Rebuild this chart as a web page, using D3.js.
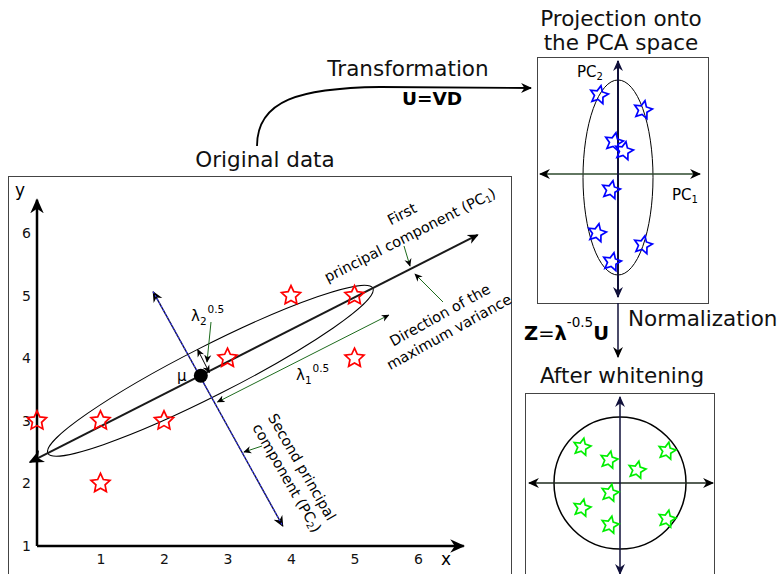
<!DOCTYPE html>
<html>
<head>
<meta charset="utf-8">
<script src="https://cdn.jsdelivr.net/npm/d3@7"></script>
<style>
  body { margin: 0; background: #fff; }
  svg { display: block; font-family: "DejaVu Sans", Verdana, sans-serif; }
</style>
</head>
<body>
<div id="chart"></div>
<script>
// ---- original data (x, y) ----
const dataX = [0, 1, 1, 2, 3, 4, 5, 5];
const dataY = [3, 3, 2, 3, 4, 5, 5, 4];
const xTicks = [1, 2, 3, 4, 5, 6];
const yTicks = [1, 2, 3, 4, 5, 6];
const meanXY = [2.58, 3.72];
const pc1Ends = [[-0.11, 2.34], [6.94, 5.97]];
const pc2Ends = [[1.83, 5.06], [3.87, 1.32]];
const ellipseCenter = [2.73, 3.80];
const ellipseAxes = [2.87, 0.39];   // semi axes, in x units

// ---- projection onto the PCA space ----
const projPC1 = [-1.9, 2.5, -0.4, 0.6, -0.7, -2.1, 2.5, -0.6];
const projPC2 = [7.9, 6.4, 3.2, 2.3, -1.6, -5.9, -7.1, -8.8];
const projEllipse = [0, -0.35, 3.5, 9.75];   // cx, cy, rx, ry

// ---- after whitening ----
const whiteX = [-3.8, -1.1, 4.7, 1.7, -1.0, -3.8, -1.0, 4.7];
const whiteY = [3.6, 2.3, 3.2, 1.3, -1.0, -2.5, -4.2, -3.6];
const whiteRadius = 6.6;

const W = 780, H = 574;
const svg = d3.select("#chart").append("svg").attr("width", W).attr("height", H);

// markers
const defs = svg.append("defs");
function marker(id, size, color) {
    defs.append("marker")
        .attr("id", id)
        .attr("viewBox", "-10 -5 10 10")
        .attr("refX", -1).attr("refY", 0)
        .attr("markerUnits", "userSpaceOnUse")
        .attr("markerWidth", size).attr("markerHeight", size)
        .attr("orient", "auto-start-reverse")
        .append("path")
        .attr("d", "M0,0 L-10,-4.5 L-7,0 L-10,4.5 Z")
        .attr("fill", color);
}
marker("big", 15, "#000");
marker("mid", 11, "#000");
marker("small", 8, "#000");
marker("navy", 11, "#10103a");

const star = d3.lineRadial().curve(d3.curveLinearClosed);
function starPath(r) {
    const pts = d3.range(10).map(i => [i * Math.PI / 5, i % 2 ? r * 0.48 : r]);
    return star(pts);
}

// ================= original data panel =================
svg.append("rect").attr("x", 8.5).attr("y", 176.5).attr("width", 503).attr("height", 420)
    .attr("fill", "none").attr("stroke", "#444").attr("stroke-width", 1);

const x = d3.scaleLinear().domain([0, 6]).range([37, 418]);
const y = d3.scaleLinear().domain([1, 6]).range([546, 233]);

const gx = svg.append("g").attr("transform", `translate(0,${y(1)})`)
    .call(d3.axisBottom(x).tickValues(xTicks).tickFormat(d3.format("d")).tickSize(0).tickPadding(8));
const gy = svg.append("g").attr("transform", `translate(${x(0)},0)`)
    .call(d3.axisLeft(y).tickValues(yTicks).tickFormat(d3.format("d")).tickSize(0).tickPadding(6));
[gx, gy].forEach(g => {
    g.select(".domain").remove();
    g.selectAll("text").attr("font-size", 14).attr("font-family", "DejaVu Sans").attr("fill", "#111");
});

svg.append("line").attr("x1", x(0)).attr("y1", y(1)).attr("x2", x(0)).attr("y2", y(6.53))
    .attr("stroke", "#000").attr("stroke-width", 2.5).attr("marker-end", "url(#big)");
svg.append("line").attr("x1", x(0)).attr("y1", y(1)).attr("x2", x(6.72)).attr("y2", y(1))
    .attr("stroke", "#000").attr("stroke-width", 2.5).attr("marker-end", "url(#big)");
svg.append("text").attr("x", 20).attr("y", 196).attr("font-size", 17).attr("text-anchor", "middle").text("y");
svg.append("text").attr("x", 446).attr("y", 565).attr("font-size", 17).attr("text-anchor", "middle").text("x");

// PC1 geometry in pixels
const p0 = [x(pc1Ends[0][0]), y(pc1Ends[0][1])];
const p1 = [x(pc1Ends[1][0]), y(pc1Ends[1][1])];
const ang = Math.atan2(p1[1] - p0[1], p1[0] - p0[0]);
const u = [Math.cos(ang), Math.sin(ang)];      // along PC1
const n = [Math.sin(ang), -Math.cos(ang)];     // perpendicular, pointing up-left
const ec = [x(ellipseCenter[0]), y(ellipseCenter[1])];
const erx = x(ellipseAxes[0]) - x(0), ery = x(ellipseAxes[1]) - x(0);
const mu = [x(meanXY[0]), y(meanXY[1])];
const at = (b, a, c) => [b[0] + u[0] * a + n[0] * c, b[1] + u[1] * a + n[1] * c];

svg.append("ellipse").attr("cx", ec[0]).attr("cy", ec[1]).attr("rx", erx).attr("ry", ery)
    .attr("transform", `rotate(${ang * 180 / Math.PI},${ec[0]},${ec[1]})`)
    .attr("fill", "none").attr("stroke", "#000").attr("stroke-width", 1);

svg.append("line").attr("x1", p0[0]).attr("y1", p0[1]).attr("x2", p1[0]).attr("y2", p1[1])
    .attr("stroke", "#1a1a1a").attr("stroke-width", 2)
    .attr("marker-start", "url(#big)").attr("marker-end", "url(#mid)");

// PC2
const q0 = [x(pc2Ends[0][0]), y(pc2Ends[0][1])];
const q1 = [x(pc2Ends[1][0]), y(pc2Ends[1][1])];
svg.append("line").attr("x1", q0[0]).attr("y1", q0[1]).attr("x2", q1[0]).attr("y2", q1[1])
    .attr("stroke", "#10103a").attr("stroke-width", 1.4)
    .attr("marker-start", "url(#mid)").attr("marker-end", "url(#mid)");
svg.append("line").attr("x1", q0[0]).attr("y1", q0[1]).attr("x2", q1[0]).attr("y2", q1[1])
    .attr("stroke", "#3a3aff").attr("stroke-width", 1.1).attr("stroke-dasharray", "2,2");

// lambda arrows
const l1a = at(mu, 3, -31), l1b = at(mu, 195, -31);
svg.append("line").attr("x1", l1a[0]).attr("y1", l1a[1]).attr("x2", l1b[0]).attr("y2", l1b[1])
    .attr("stroke", "#1d6b1d").attr("stroke-width", 1)
    .attr("marker-start", "url(#small)").attr("marker-end", "url(#small)");
const l2a = at(mu, 9, -1), l2b = at(mu, 9, ery);
svg.append("line").attr("x1", l2a[0]).attr("y1", l2a[1]).attr("x2", l2b[0]).attr("y2", l2b[1])
    .attr("stroke", "#000").attr("stroke-width", 1)
    .attr("marker-start", "url(#small)").attr("marker-end", "url(#small)");

// green pointers
const pointers = [
    [[211, 322], [207, 362]],
    [[404, 246], [410, 266]],
    [[443, 302], [415, 274]],
    [[262, 446], [244, 452]]
];
svg.selectAll(".ptr").data(pointers).enter().append("line")
    .attr("x1", d => d[0][0]).attr("y1", d => d[0][1])
    .attr("x2", d => d[1][0]).attr("y2", d => d[1][1])
    .attr("stroke", "#1d6b1d").attr("stroke-width", 1).attr("marker-end", "url(#small)");

// mean
svg.append("circle").attr("cx", mu[0]).attr("cy", mu[1]).attr("r", 7).attr("fill", "#000");
svg.append("text").attr("x", 177).attr("y", 381).attr("font-size", 15).text("μ");

// red stars
svg.selectAll(".red").data(dataX).enter().append("path")
    .attr("d", starPath(10))
    .attr("transform", (d, i) => `translate(${x(d)},${y(dataY[i])})`)
    .attr("fill", "none").attr("stroke", "#ff0000").attr("stroke-width", 1.7);

// lambda labels
function lambda(lx, ly, sub) {
    const t = svg.append("text").attr("x", lx).attr("y", ly).attr("font-size", 15);
    t.append("tspan").text("λ");
    t.append("tspan").attr("font-size", 10.5).attr("dy", 4).text(sub);
    t.append("tspan").attr("font-size", 10.5).attr("dy", -12).attr("dx", 1).text("0.5");
}
lambda(191, 321, "2");
lambda(296, 380, "1");

// rotated annotations
function rotText(cx, cy, a, parts, size) {
    const t = svg.append("text").attr("font-size", size || 14.5)
        .attr("text-anchor", "middle").attr("dominant-baseline", "central")
        .attr("transform", `translate(${cx},${cy}) rotate(${a})`);
    parts.forEach(p => {
        if (p.sub) t.append("tspan").attr("font-size", 9.5).attr("dy", 3).text(p.sub);
        else if (p.after) t.append("tspan").attr("dy", -3).text(p.after);
        else t.append("tspan").text(p.t);
    });
}
rotText(402, 214, -27, [{t: "First"}]);
rotText(410, 235, -27, [{t: "principal component (PC"}, {sub: "1"}, {after: ")"}]);
rotText(440, 315, -29, [{t: "Direction of the"}]);
rotText(449, 332, -29, [{t: "maximum variance"}]);
rotText(302, 467, 60, [{t: "Second principal"}]);
rotText(287, 478, 60, [{t: "component (PC"}, {sub: "2"}, {after: ")"}]);

// ================= titles and transformation =================
const title = (tx, ty, s, anchor) => svg.append("text").attr("x", tx).attr("y", ty)
    .attr("font-size", 21.5).attr("text-anchor", anchor || "middle").attr("fill", "#111").text(s);
title(265, 167, "Original data");
title(408, 76, "Transformation");
title(621, 26, "Projection onto");
title(621, 50, "the PCA space");
title(628, 326, "Normalization", "start");
title(622, 383, "After whitening");

svg.append("path").attr("d", "M257,146 C257,100 300,88 380,87 L531,88")
    .attr("fill", "none").attr("stroke", "#000").attr("stroke-width", 1.8)
    .attr("marker-end", "url(#mid)");
svg.append("text").attr("x", 432).attr("y", 105).attr("font-size", 18.5).attr("font-weight", "bold")
    .attr("text-anchor", "middle").text("U=VD");

// ================= projection panel =================
svg.append("rect").attr("x", 537.5).attr("y", 57.5).attr("width", 171).attr("height", 246)
    .attr("fill", "none").attr("stroke", "#444").attr("stroke-width", 1);
const px = d3.scaleLinear().domain([-10, 10]).range([518, 718]);
const py = d3.scaleLinear().domain([-10, 10]).range([274, 74]);

svg.append("ellipse").attr("cx", px(projEllipse[0])).attr("cy", py(projEllipse[1]))
    .attr("rx", px(projEllipse[2]) - px(0)).attr("ry", py(0) - py(projEllipse[3]))
    .attr("fill", "none").attr("stroke", "#000").attr("stroke-width", 1);
svg.append("line").attr("x1", px(-7.8)).attr("y1", py(0)).attr("x2", px(8.2)).attr("y2", py(0))
    .attr("stroke", "#2e4a2e").attr("stroke-width", 1.5)
    .attr("marker-start", "url(#mid)").attr("marker-end", "url(#mid)");
svg.append("line").attr("x1", px(0)).attr("y1", py(11.3)).attr("x2", px(0)).attr("y2", py(-12.3))
    .attr("stroke", "#10103a").attr("stroke-width", 2)
    .attr("marker-start", "url(#navy)").attr("marker-end", "url(#navy)");

svg.selectAll(".blue").data(projPC1).enter().append("path")
    .attr("d", starPath(9.5))
    .attr("transform", (d, i) => `translate(${px(d)},${py(projPC2[i])}) rotate(12)`)
    .attr("fill", "none").attr("stroke", "#0000ff").attr("stroke-width", 1.7);

const pcLabel = (lx, ly, sub) => {
    const t = svg.append("text").attr("x", lx).attr("y", ly).attr("font-size", 15);
    t.append("tspan").text("PC");
    t.append("tspan").attr("font-size", 10).attr("dy", 3).text(sub);
};
pcLabel(577, 77, "2");
pcLabel(672, 200, "1");

// normalization arrow and formula
svg.append("line").attr("x1", px(0)).attr("y1", 303).attr("x2", px(0)).attr("y2", 357)
    .attr("stroke", "#10103a").attr("stroke-width", 1.5).attr("marker-end", "url(#mid)");
const z = svg.append("text").attr("x", 524).attr("y", 340).attr("font-size", 19.5).attr("font-weight", "bold");
z.append("tspan").text("Z");
z.append("tspan").attr("font-weight", "normal").text("=");
z.append("tspan").text("λ");
z.append("tspan").attr("font-size", 13.5).attr("font-weight", "normal").attr("dy", -13).text("-0.5");
z.append("tspan").attr("dy", 13).text("U");

// ================= whitening panel =================
svg.append("rect").attr("x", 525.5).attr("y", 393.5).attr("width", 189).attr("height", 200)
    .attr("fill", "none").attr("stroke", "#444").attr("stroke-width", 1);
const wx = d3.scaleLinear().domain([-10, 10]).range([520, 720]);
const wy = d3.scaleLinear().domain([-10, 10]).range([583, 383]);

svg.append("circle").attr("cx", wx(0)).attr("cy", wy(0)).attr("r", wx(whiteRadius) - wx(0))
    .attr("fill", "none").attr("stroke", "#000").attr("stroke-width", 1.5);
svg.append("line").attr("x1", wx(-9.1)).attr("y1", wy(0)).attr("x2", wx(9.3)).attr("y2", wy(0))
    .attr("stroke", "#1e2a1e").attr("stroke-width", 1.5)
    .attr("marker-start", "url(#mid)").attr("marker-end", "url(#mid)");
svg.append("line").attr("x1", wx(0)).attr("y1", wy(8.6)).attr("x2", wx(0)).attr("y2", wy(-9.1))
    .attr("stroke", "#10103a").attr("stroke-width", 1.5)
    .attr("marker-start", "url(#navy)").attr("marker-end", "url(#navy)");

svg.selectAll(".green").data(whiteX).enter().append("path")
    .attr("d", starPath(9))
    .attr("transform", (d, i) => `translate(${wx(d)},${wy(whiteY[i])}) rotate(12)`)
    .attr("fill", "none").attr("stroke", "#00ee00").attr("stroke-width", 1.7);
</script>
</body>
</html>
